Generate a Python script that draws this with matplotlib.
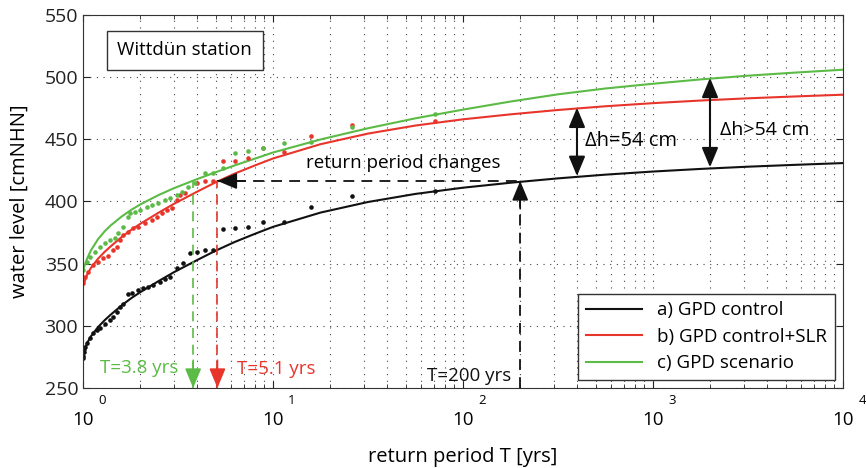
import numpy as np
import matplotlib.pyplot as plt
from matplotlib.transforms import offset_copy

plt.rcParams['font.family'] = ['Open Sans', 'DejaVu Sans']

# fitted GPD return level curves (return period T in years -> water level cm)
T_fit = [1, 1.05, 1.1, 1.2, 1.3, 1.4, 1.6, 1.8, 2, 2.5, 3, 4, 5, 6.3, 8, 10,
         17.8, 31.6, 56.2, 100, 178, 316, 562, 1000, 1778, 3162, 5623, 10000]
fit_control = [277, 286, 291.5, 299, 304.5, 309, 316.5, 322.4, 327, 336, 343,
               353, 360.5, 367.5, 373.9, 379.6, 391.1, 399.6, 406.1, 411.1,
               415.1, 418.6, 421.6, 424.1, 426.2, 428, 429.5, 430.9]
fit_slr = [332, 341, 346.5, 354, 359.5, 364, 371.5, 377.4, 382, 391, 398, 408,
           415.5, 422.5, 428.9, 434.6, 446.1, 454.6, 461.1, 466.1, 470.1,
           473.6, 476.6, 479.1, 481.2, 483, 484.5, 485.9]
fit_scen = [345, 353.9, 360.6, 369.7, 376, 380.8, 388, 393.4, 397.6, 405.2,
            410.6, 418.1, 423.6, 429.1, 434.4, 439.4, 449.9, 458.9, 466.9,
            473.9, 480.4, 486.2, 490.9, 494.7, 498.2, 501.2, 503.7, 506]

# empirical points
T_ctrl = [1.0, 1.005, 1.01, 1.015, 1.025, 1.046, 1.088, 1.133, 1.18, 1.229,
          1.305, 1.387, 1.444, 1.504, 1.566, 1.63, 1.73, 1.80, 1.955, 2.08,
          2.2, 2.34, 2.54, 2.7, 2.87, 3.11, 3.37, 3.66, 3.97, 4.38, 4.85,
          5.47, 6.32, 7.42, 8.88, 11.4, 15.8, 25.9, 71]
v_ctrl = [274, 276, 279, 281, 283.2, 285.9, 289.9, 294, 296.6, 297.9, 301.4,
          304.6, 307.3, 311.3, 315.3, 317.5, 325.5, 326.1, 328.8, 330.1, 331.4,
          332.8, 335.4, 337.4, 339.5, 346.2, 350.2, 358.8, 359.6, 360.9, 360.9,
          377.5, 378.4, 379.7, 383.7, 383.7, 395.8, 404.6, 408.6]
T_slr = [1.0, 1.025, 1.066, 1.133, 1.204, 1.28, 1.36, 1.444, 1.504, 1.566,
         1.63, 1.73, 1.84, 1.955, 2.12, 2.3, 2.44, 2.6, 2.76, 2.93, 3.11, 3.24,
         3.44, 4.0, 4.38, 4.85, 5.47, 6.32, 7.42, 8.88, 11.4, 15.8, 25.9, 71]
v_slr = [334.1, 339.5, 343.5, 348.9, 351.5, 354.3, 356.1, 360.9, 363.6, 369,
         373, 375.7, 378.4, 379.7, 382.9, 385.1, 387.7, 390.5, 393.1, 394.5,
         401.2, 405.2, 406.6, 415.1, 416.7, 416.7, 432.8, 432.8, 435.2, 442.8,
         440, 452.7, 461.5, 464.7]
T_scen = [1.0, 1.046, 1.088, 1.157, 1.229, 1.305, 1.387, 1.473, 1.534, 1.63,
          1.73, 1.77, 1.877, 1.995, 2.16, 2.3, 2.49, 2.7, 2.87, 3.11, 3.3, 3.58,
          3.89, 4.38, 4.85, 5.47, 6.32, 7.42, 8.88, 11.4, 15.8, 25.9, 71]
v_scen = [344.9, 351.5, 355.6, 359.6, 363.6, 366.3, 369, 370.3, 374.4, 379.7,
          387.7, 390.5, 391.8, 393.1, 395.8, 397.1, 398.5, 401.2, 402.5, 405.2,
          407.9, 411.9, 414.6, 422.6, 422.6, 426.7, 438.7, 440.8, 443.2, 446.8,
          448.1, 460.1, 470.1]

labels = ['a) GPD control', 'b) GPD control+SLR', 'c) GPD scenario']
BLACK = '#111111'
RED = '#e8352b'
GREEN = '#5bbb46'

# key values for the annotations
T_green, T_red, T_200 = 3.8, 5.1, 200
level_200 = 416.5
T_dh1, T_dh2 = 398, 1995


def head(ax, xy, dxy, color):
    ax.annotate('', xy=xy, xytext=dxy, textcoords='offset points',
                arrowprops=dict(arrowstyle='-|>,head_length=0.6,head_width=0.25',
                                color=color, lw=1.2, shrinkA=0, shrinkB=0,
                                mutation_scale=20))


fig = plt.figure(figsize=(8.66, 4.68), dpi=100)
ax = fig.add_axes([83 / 866, 80 / 468, 760 / 866, 373 / 468])

ax.plot(T_fit, fit_control, color=BLACK, lw=1.5, label=labels[0])
ax.plot(T_fit, fit_slr, color=RED, lw=1.5, label=labels[1])
ax.plot(T_fit, fit_scen, color=GREEN, lw=1.5, label=labels[2])
ax.plot(T_ctrl, v_ctrl, 'o', color=BLACK, ms=3.3, mew=0)
ax.plot(T_slr, v_slr, 'o', color=RED, ms=3.3, mew=0)
ax.plot(T_scen, v_scen, 'o', color=GREEN, ms=3.3, mew=0)

ax.set_xscale('log')
ax.set_xlim(1, 1e4)
ax.set_ylim(250, 550)
ax.set_yticks(np.arange(250, 551, 50))

ax.grid(True, which='major', ls=(0, (1, 5)), color='#444444', lw=0.8)
ax.grid(True, which='minor', axis='x', ls=(0, (1, 5)), color='#444444', lw=0.8)
ax.tick_params(which='both', direction='in', top=True, right=True,
               labelsize=14, colors='#222222')
ax.tick_params(which='major', length=5)
ax.tick_params(which='minor', length=3)
ax.tick_params(axis='x', labelbottom=False)
for s in ax.spines.values():
    s.set_color('#333333')

# MATLAB style 10^n tick labels
trans = ax.get_xaxis_transform()
for k in range(5):
    ax.text(10 ** k, -0.087, '10', transform=trans, ha='center', va='center',
            fontsize=13.5)
    ax.text(10 ** k, -0.034, str(k), ha='center', va='center', fontsize=9.5,
            transform=offset_copy(trans, fig=fig, x=19, y=0, units='dots'))

ax.set_ylabel('water level [cmNHN]', fontsize=14.5, labelpad=11)
ax.set_xlabel('return period T [yrs]', fontsize=14.5, labelpad=39)

# dashed arrows for return period changes
ax.plot([T_200, T_200], [250, level_200], color=BLACK, lw=1.3, ls=(0, (6, 4)))
head(ax, (T_200, level_200), (0, -20), BLACK)
ax.plot([T_red, T_200], [level_200, level_200], color=BLACK, lw=1.3, ls=(0, (6, 4)))
head(ax, (T_red, level_200), (20, 0), BLACK)
ax.plot([T_green, T_green], [250, level_200], color=GREEN, lw=1.2, ls=(0, (6, 4)))
head(ax, (T_green, 250), (0, 20), GREEN)
ax.plot([T_red, T_red], [250, level_200], color=RED, lw=1.2, ls=(0, (6, 4)))
head(ax, (T_red, 250), (0, 20), RED)

# delta h arrows
for T, lo, hi in [(T_dh1, 420.5, 475.5), (T_dh2, 427.5, 499.5)]:
    ax.annotate('', xy=(T, lo), xytext=(T, hi),
                arrowprops=dict(arrowstyle='<|-|>,head_length=0.6,head_width=0.25',
                                color=BLACK, lw=1.5, shrinkA=0, shrinkB=0,
                                mutation_scale=20))

ax.text(438, 449, '\u0394h=54 cm', fontsize=14.5, va='center')
ax.text(2250, 457.5, '\u0394h>54 cm', fontsize=14, va='center')
ax.text(14.9, 431, 'return period changes', fontsize=13.5, va='center')
ax.text(1.23, 266, 'T=3.8 yrs', fontsize=13.5, va='center', color=GREEN)
ax.text(6.47, 265, 'T=5.1 yrs', fontsize=13.5, va='center', color=RED)
ax.text(64.7, 260, 'T=200 yrs', fontsize=13.5, va='center', color=BLACK)

ax.text(0.134, 0.905, 'Wittd\u00fcn station', transform=ax.transAxes,
        ha='center', va='center', fontsize=13.5,
        bbox=dict(boxstyle='square,pad=0.55', fc='white', ec='#333333', lw=1))

leg = ax.legend(loc='lower right', fontsize=13.5, fancybox=False, framealpha=1,
                edgecolor='#333333', handlelength=3.0, borderaxespad=0.45,
                labelspacing=0.45, borderpad=0.4)
leg.get_frame().set_linewidth(1)

plt.savefig('out.png', dpi=100)
